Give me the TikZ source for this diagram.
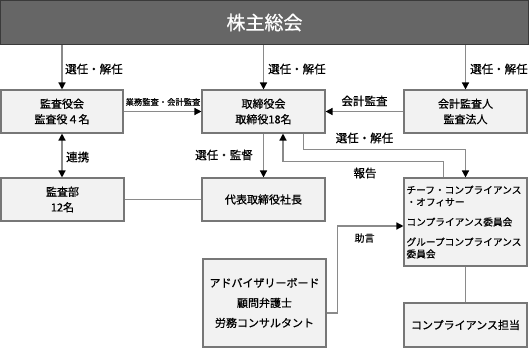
\documentclass[tikz,border=0pt]{standalone}
\usepackage{fontspec}
\setmainfont{Noto Sans CJK JP}[FakeBold=0.7]
\usetikzlibrary{arrows.meta}
\definecolor{boxfill}{HTML}{F2F2F2}
\definecolor{boxline}{HTML}{777777}
\definecolor{conn}{HTML}{8A8A8A}
\definecolor{barfill}{HTML}{666666}
\definecolor{barline}{HTML}{3A3A3A}
\tikzset{
  orgbox/.style={draw=boxline, fill=boxfill, line width=1.1pt, inner sep=0pt,
    minimum width=123pt, minimum height=43pt, align=center,
    font=\fontsize{11}{15.5}\selectfont},
  conn/.style={draw=conn, line width=1.4pt},
  arr/.style={conn, -{Triangle[length=7pt,width=7pt,color=black]}},
  darr/.style={conn, {Triangle[length=7pt,width=7pt,color=black]}-{Triangle[length=7pt,width=7pt,color=black]}},
  lbl/.style={inner sep=0pt, font=\fontsize{11.5}{13}\selectfont},
}
\begin{document}
\begin{tikzpicture}[x=1pt,y=-1pt]
\useasboundingbox (0,0) rectangle (530,348);
\fill[white] (0,0) rectangle (530,348);
\node[draw=barline, fill=barfill, line width=1.1pt, inner sep=0pt, minimum width=528pt, minimum height=44pt,
  text=white, font=\fontsize{19}{22}\selectfont] (bar) at (264.5,22.5) {株主総会};
\node[orgbox, minimum width=122pt] (A) at (62,111.5) {監査役会\\監査役４名};
\node[orgbox] (B) at (263.5,111.5) {取締役会\\取締役18名};
\node[orgbox] (C) at (465.5,111.5) {会計監査人\\監査法人};
\node[orgbox] (D) at (62.5,199.5) {監査部\\12名};
\node[orgbox] (E) at (263.5,199.5) {代表取締役社長};
\node[orgbox, minimum height=88pt, align=left, text width=118pt,
  font=\fontsize{9.7}{12}\selectfont] (F) at (465.5,222)
  {チーフ・コンプライアンス\\・オフィサー\\[8pt]コンプライアンス委員会\\[8pt]グループコンプライアンス\\委員会};
\node[orgbox, minimum height=88pt, font=\fontsize{11}{20}\selectfont] (G) at (264.5,303)
  {アドバイザリーボード\\顧問弁護士\\労務コンサルタント};
\node[orgbox, minimum height=44pt] (H) at (465.5,325) {コンプライアンス担当};

% connectors
\draw[arr] (A.north |- bar.south) -- (A.north);
\draw[arr] (B.north |- bar.south) -- (B.north);
\draw[arr] (C.north |- bar.south) -- (C.north);
\draw[arr] (A.east) -- (B.west);
\draw[arr] (C.west) -- (B.east);
\draw[darr] (A.south) -- (A.south |- D.north);
\draw[arr] (B.south) -- (E.north);
\draw[conn] (D.east) -- (E.west);
\draw[arr] ([xshift=-22pt]B.south east) -- ++(0,16) -| (F.north);
\draw[arr] ([xshift=-22pt]F.north) -- ++(0,-16) -| ([xshift=19.5pt]B.south);
\draw[arr] ([yshift=-10pt]G.east) -- ++(11,0) |- ([yshift=-4pt]F.west);
\draw[conn] (F.south) -- (H.north);

% labels
\node[lbl, anchor=west] (l1) at (65,69) {選任・解任};
\node[lbl, anchor=west] (l2) at (268,69) {選任・解任};
\node[lbl, anchor=west] (l3) at (470,69) {選任・解任};
\node[lbl, font=\fontsize{8.3}{10}\selectfont] (l4) at (163,102) {業務監査・会計監査};
\node[lbl] (l5) at (364.5,101) {会計監査};
\node[lbl, anchor=west] (l6) at (66,157) {連携};
\node[lbl] (l7) at (224,155) {選任・監督};
\node[lbl] (l8) at (364.5,138) {選任・解任};
\node[lbl] (l9) at (365,173) {報告};
\node[lbl, font=\fontsize{10}{12}\selectfont] (l10) at (364.5,238) {助言};
\end{tikzpicture}
\end{document}
